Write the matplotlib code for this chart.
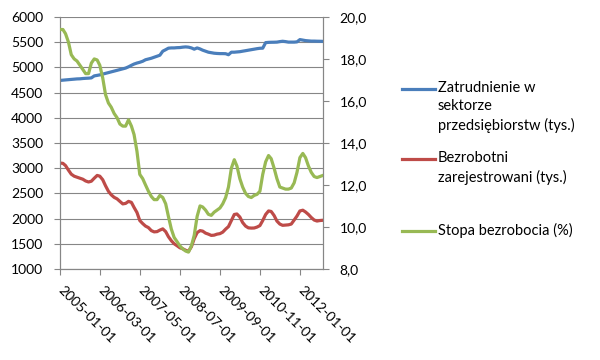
import matplotlib
matplotlib.use("Agg")
import matplotlib.pyplot as plt
import matplotlib.ticker as mticker
from matplotlib.lines import Line2D
import numpy as np
import pandas as pd

plt.rcParams['font.family'] = ['Lato', 'DejaVu Sans']

start_month = "2005-01-01"
n_months = 93

employment = [4740, 4745, 4750, 4755, 4760, 4765, 4770, 4772, 4778, 4782, 4785, 4790,
              4830, 4840, 4850, 4865, 4880, 4895, 4910, 4925, 4940, 4955, 4970, 4985,
              5010, 5040, 5065, 5085, 5100, 5120, 5150, 5165, 5180, 5200, 5220, 5240,
              5320, 5350, 5380, 5385, 5385, 5390, 5392, 5400, 5405, 5400, 5385, 5360,
              5385, 5365, 5340, 5320, 5300, 5290, 5280, 5275, 5272, 5272, 5270, 5250,
              5300, 5300, 5305, 5310, 5320, 5330, 5340, 5350, 5360, 5370, 5378, 5380,
              5490, 5495, 5497, 5498, 5500, 5510, 5517, 5510, 5500, 5500, 5500, 5505,
              5550, 5540, 5530, 5525, 5520, 5520, 5518, 5517, 5515]

registered = [3100, 3095, 3050, 2960, 2880, 2840, 2820, 2800, 2780, 2745, 2725, 2740,
              2800, 2855, 2840, 2770, 2650, 2540, 2470, 2420, 2390, 2340, 2290, 2300,
              2340, 2320, 2220, 2120, 1960, 1900, 1850, 1820, 1760, 1735, 1740, 1770,
              1795, 1740, 1640, 1560, 1500, 1460, 1420, 1400, 1370, 1350, 1440, 1600,
              1720, 1760, 1750, 1710, 1690, 1665, 1670, 1690, 1700, 1730, 1790, 1840,
              1960, 2080, 2090, 2030, 1920, 1850, 1815, 1810, 1812, 1830, 1860, 1960,
              2080, 2150, 2140, 2060, 1950, 1890, 1865, 1870, 1875, 1890, 1970, 2050,
              2150, 2165, 2130, 2080, 2020, 1970, 1950, 1960, 1965]

rate = [19.4, 19.4, 19.2, 18.8, 18.2, 18.0, 17.9, 17.7, 17.5, 17.3, 17.3, 17.8,
        18.0, 17.95, 17.7, 17.1, 16.3, 15.9, 15.7, 15.4, 15.2, 14.9, 14.8, 14.8,
        15.1, 14.8, 14.4, 13.6, 12.5, 12.3, 12.0, 11.7, 11.45, 11.3, 11.3, 11.5,
        11.4, 11.1, 10.5, 9.9, 9.5, 9.3, 9.1, 8.95, 8.85, 8.8, 9.1, 9.6,
        10.5, 11.0, 10.95, 10.8, 10.6, 10.55, 10.7, 10.8, 10.9, 11.1, 11.4, 11.9,
        12.8, 13.2, 12.9, 12.3, 11.9, 11.6, 11.45, 11.4, 11.5, 11.55, 11.7, 12.5,
        13.1, 13.4, 13.25, 12.8, 12.3, 11.9, 11.85, 11.8, 11.8, 11.85, 12.1, 12.6,
        13.3, 13.5, 13.3, 12.9, 12.6, 12.4, 12.35, 12.4, 12.45]

labels = ["Zatrudnienie w\nsektorze\nprzedsiębiorstw (tys.)",
          "Bezrobotni\nzarejestrowani (tys.)",
          "Stopa bezrobocia (%)"]
colors = ["#4A7EBB", "#BE4B48", "#98B954"]
tick_step = 14

dates = pd.date_range(start_month, periods=n_months, freq="MS")

fig = plt.figure(figsize=(6, 3.6), dpi=100)
ax = fig.add_axes([0.1, 0.253, 0.438, 0.7])
ax2 = ax.twinx()

grid_c = "#868686"
lw = 2.3
ax.plot(dates, employment, color=colors[0], lw=lw, zorder=3)
ax.plot(dates, registered, color=colors[1], lw=lw, zorder=3)
ax2.plot(dates, rate, color=colors[2], lw=lw, zorder=3)

ax.set_ylim(1000, 6000)
ax.set_yticks(np.arange(1000, 6001, 500))
ax2.set_ylim(8, 20)
ax2.set_yticks(np.arange(8, 20.1, 2))
ax2.yaxis.set_major_formatter(mticker.FuncFormatter(lambda v, p: f"{v:.1f}".replace('.', ',')))
ax.set_xlim(dates[0], dates[-1])
ax.set_xticks(dates[::tick_step])
ax.set_xticklabels([d.strftime("%Y-%m-%d") for d in dates[::tick_step]],
                   rotation=-45, ha='left', va='center', rotation_mode='anchor')

ax.grid(axis='y', color=grid_c, lw=0.8)
ax.set_axisbelow(True)
for a in (ax, ax2):
    a.spines['top'].set_visible(False)
    for s in ('left', 'right', 'bottom'):
        a.spines[s].set_color(grid_c)
        a.spines[s].set_linewidth(0.8)
ax.tick_params(axis='both', colors=grid_c, labelcolor='black', labelsize=10, length=4, width=0.8)
ax.tick_params(axis='y', pad=8)
ax.tick_params(axis='x', pad=10)
ax2.tick_params(axis='y', colors=grid_c, labelcolor='black', labelsize=10, length=4, width=0.8, pad=8)

# legend (handles aligned with the first text line, as in the original)
leg_y = [89, 159, 231]
for lab, col, y in zip(labels, colors, leg_y):
    yf = 1 - y / 360
    fig.add_artist(Line2D([402 / 600, 435 / 600], [yf, yf], color=col, lw=lw,
                          transform=fig.transFigure))
    fig.text(438 / 600, yf + 0.023, lab, fontsize=10.5, va='top', ha='left',
             linespacing=1.4)

fig.savefig("out.png", dpi=100)
